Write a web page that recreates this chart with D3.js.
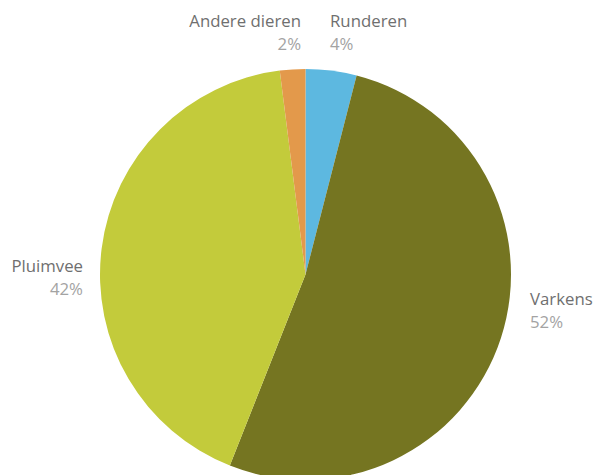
<!DOCTYPE html>
<html>
<head>
<meta charset="utf-8">
<script src="https://cdn.jsdelivr.net/npm/d3@7"></script>
<style>
  html, body { margin: 0; padding: 0; background: #fff; overflow: hidden; }
  svg text { font-family: "Open Sans", "Noto Sans", sans-serif; }
</style>
</head>
<body>
<svg id="chart" width="593" height="475"></svg>
<script>
// Share of animals by category (percent), clockwise from 12 o'clock
const categories = ["Runderen", "Varkens", "Pluimvee", "Andere dieren"];
const values = [4, 52, 42, 2];
const colors = ["#5db8e0", "#757521", "#c3cb3b", "#e3994b"];

// Label placement per slice: anchor side and position
const labelPos = [
  { x: 330, y: 27, anchor: "start" },
  { x: 530, y: 305, anchor: "start" },
  { x: 83, y: 272, anchor: "end" },
  { x: 301, y: 27, anchor: "end" }
];

const svg = d3.select("#chart");
const cx = 305.5, cy = 274.5, r = 205.5;

const pie = d3.pie().sort(null).value(d => d)
  .startAngle(0).endAngle(2 * Math.PI);
const arc = d3.arc().innerRadius(0).outerRadius(r);

const g = svg.append("g").attr("transform", `translate(${cx},${cy})`);
g.selectAll("path")
  .data(pie(values))
  .join("path")
  .attr("d", arc)
  .attr("fill", (d, i) => colors[i]);

const labels = svg.selectAll("g.label")
  .data(categories)
  .join("g")
  .attr("class", "label");

labels.append("text")
  .attr("x", (d, i) => labelPos[i].x)
  .attr("y", (d, i) => labelPos[i].y)
  .attr("text-anchor", (d, i) => labelPos[i].anchor)
  .attr("font-size", 16.8)
  .attr("fill", "#6f6f6f")
  .text(d => d);

labels.append("text")
  .attr("x", (d, i) => labelPos[i].x)
  .attr("y", (d, i) => labelPos[i].y + 23)
  .attr("text-anchor", (d, i) => labelPos[i].anchor)
  .attr("font-size", 16.8)
  .attr("fill", "#a3a3a3")
  .text((d, i) => values[i] + "%");
</script>
</body>
</html>
